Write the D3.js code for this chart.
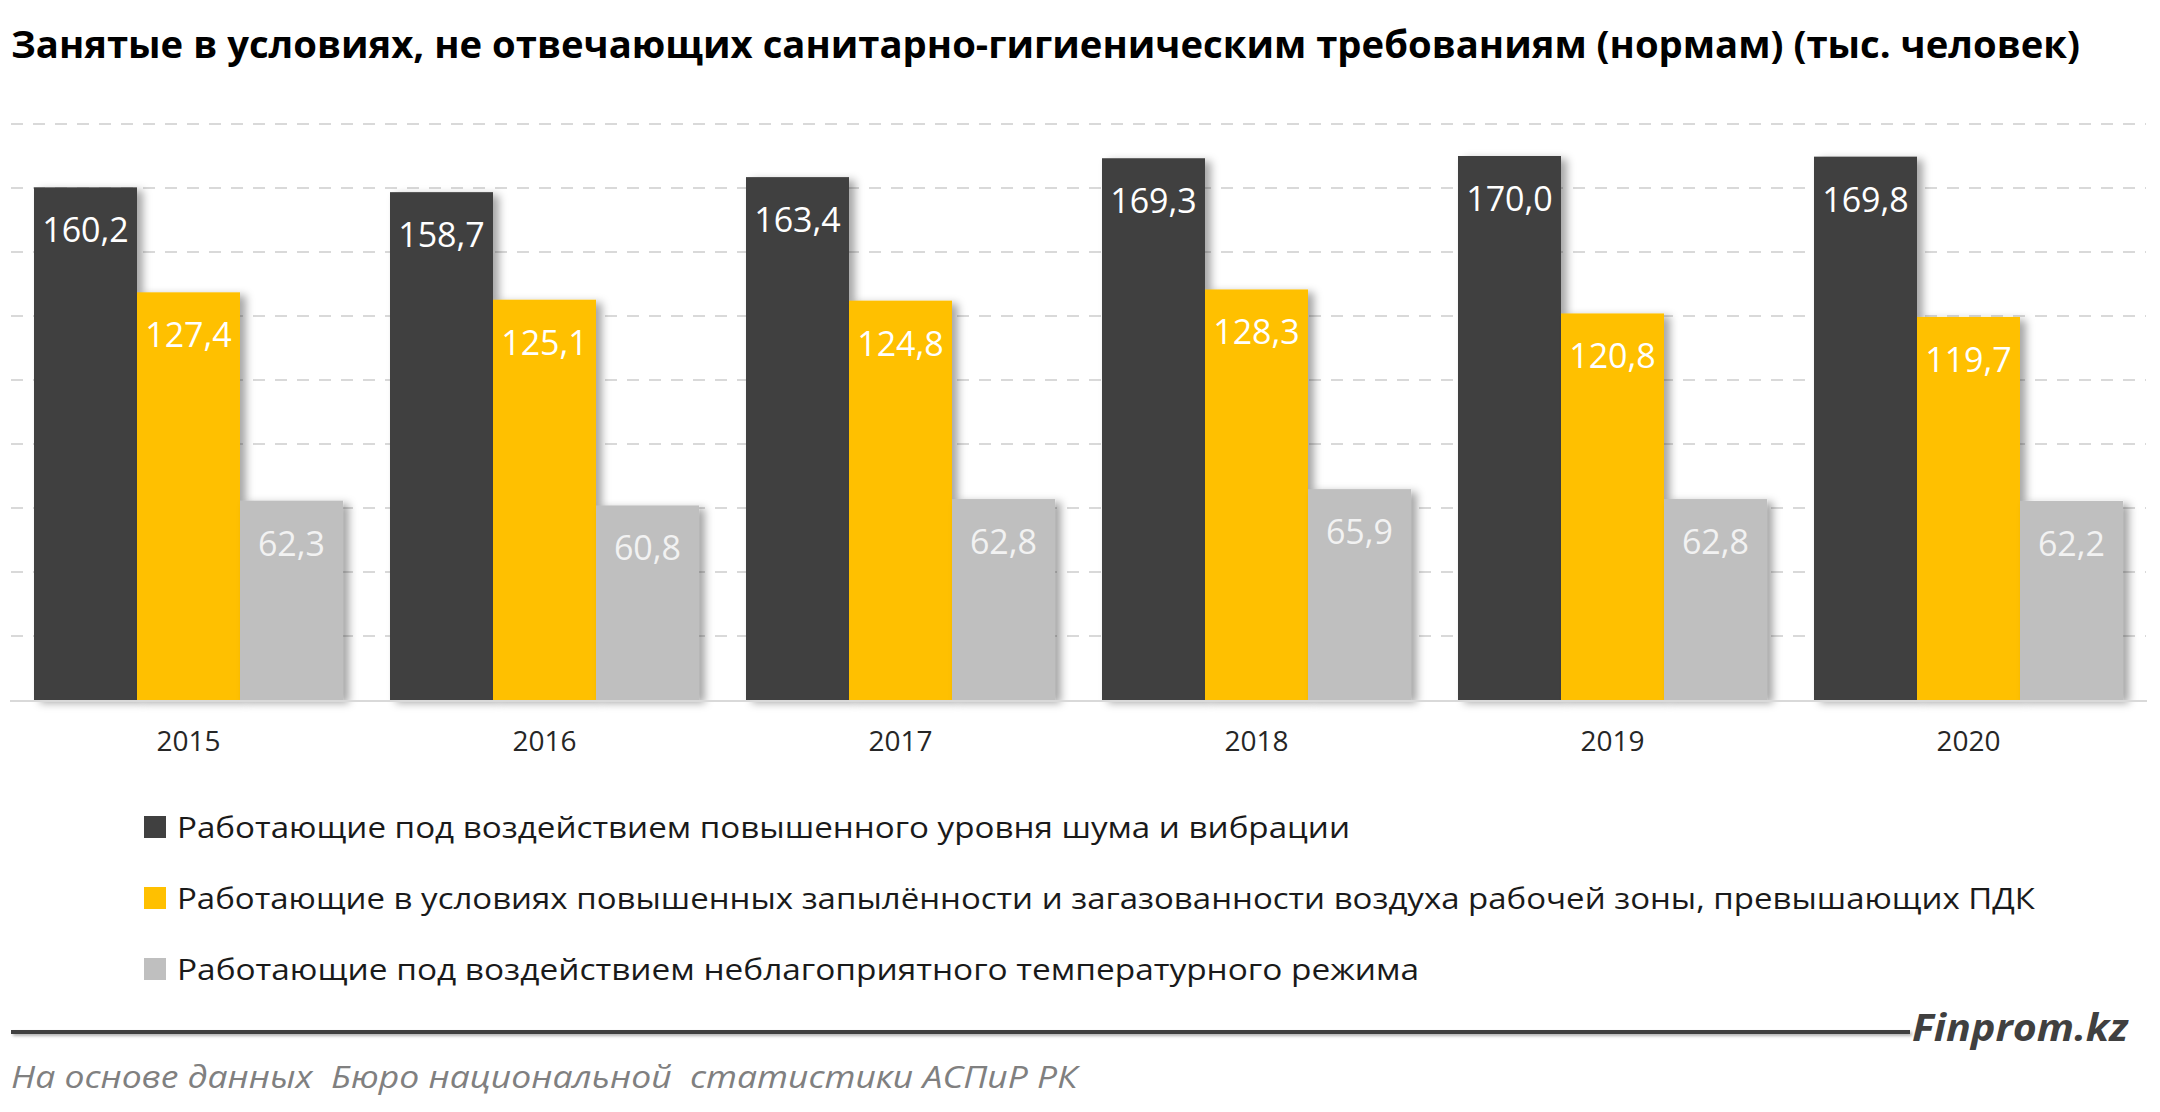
<!DOCTYPE html>
<html>
<head>
<meta charset="utf-8">
<script src="https://cdn.jsdelivr.net/npm/d3@7"></script>
<style>
  body { margin: 0; background: #fff; }
  text { font-family: "Open Sans", "Noto Sans", sans-serif; }
</style>
</head>
<body>
<div id="chart"></div>
<script>
// Data
const years = ["2015", "2016", "2017", "2018", "2019", "2020"];
const seriesNames = [
    "Работающие под воздействием повышенного уровня шума и вибрации",
    "Работающие в условиях повышенных запылённости и загазованности воздуха рабочей зоны, превышающих ПДК",
    "Работающие под воздействием неблагоприятного температурного режима"
];
const noise = [160.2, 158.7, 163.4, 169.3, 170.0, 169.8];
const dust = [127.4, 125.1, 124.8, 128.3, 120.8, 119.7];
const temperature = [62.3, 60.8, 62.8, 65.9, 62.8, 62.2];
const yTicks = [20, 40, 60, 80, 100, 120, 140, 160, 180];

const title = "Занятые в условиях, не отвечающих санитарно-гигиеническим требованиям (нормам) (тыс. человек)";
const source = "На основе данных  Бюро национальной  статистики АСПиР РК";
const brand = "Finprom.kz";

const colors = ["#404040", "#FFC000", "#BFBFBF"];
const labelColors = ["#ffffff", "#ffffff", "#f2f2f2"];
const seriesValues = [noise, dust, temperature];

const width = 2160;
const height = 1112;

const svg = d3.select("#chart")
    .append("svg")
    .attr("width", width)
    .attr("height", height);

// soft drop shadow like the Excel bars
const defs = svg.append("defs");
const shadow = defs.append("filter")
    .attr("id", "shadow")
    .attr("x", "-10%").attr("y", "-10%")
    .attr("width", "130%").attr("height", "120%");
shadow.append("feDropShadow")
    .attr("dx", 6).attr("dy", 3)
    .attr("stdDeviation", 4)
    .attr("flood-color", "#000")
    .attr("flood-opacity", 0.35);

// lighter shadow for the footer rule (thin shape, so give it room)
const ruleShadow = defs.append("filter")
    .attr("id", "ruleShadow")
    .attr("x", "-2%").attr("y", "-200%")
    .attr("width", "104%").attr("height", "500%");
ruleShadow.append("feDropShadow")
    .attr("dx", 2).attr("dy", 2)
    .attr("stdDeviation", 1.5)
    .attr("flood-color", "#000")
    .attr("flood-opacity", 0.3);

// Title
svg.append("text")
    .attr("x", 11)
    .attr("y", 58)
    .attr("font-size", 38)
    .attr("font-weight", 700)
    .attr("fill", "#000")
    .attr("textLength", 2069)
    .attr("lengthAdjust", "spacingAndGlyphs")
    .text(title);

// Scales
const x0 = d3.scaleBand()
    .domain(years)
    .range([10.5, 2146.5])
    .paddingInner(0.132)
    .paddingOuter(0.066);

const x1 = d3.scaleBand()
    .domain(d3.range(seriesValues.length))
    .range([0, x0.bandwidth()]);

const y = d3.scaleLinear()
    .domain([0, 180])
    .range([700, 124]);

// Gridlines
svg.append("g")
    .selectAll("line")
    .data(yTicks)
    .join("line")
    .attr("x1", 11)
    .attr("x2", 2146)
    .attr("y1", d => y(d))
    .attr("y2", d => y(d))
    .attr("stroke", "#d9d9d9")
    .attr("stroke-width", 2)
    .attr("stroke-dasharray", "12,10");

// Bars
const groups = svg.append("g")
    .selectAll("g")
    .data(years)
    .join("g")
    .attr("transform", d => `translate(${x0(d)},0)`);

const cells = groups.selectAll("g")
    .data((d, i) => seriesValues.map((s, k) => ({ k: k, v: s[i] })))
    .join("g");

cells.append("rect")
    .attr("x", d => x1(d.k))
    .attr("y", d => y(d.v))
    .attr("width", x1.bandwidth())
    .attr("height", d => y(0) - y(d.v))
    .attr("fill", d => colors[d.k])
    .attr("filter", "url(#shadow)");

cells.append("text")
    .attr("x", d => x1(d.k) + x1.bandwidth() / 2)
    .attr("y", d => y(d.v) + 55)
    .attr("text-anchor", "middle")
    .attr("font-size", 34)
    .attr("fill", d => labelColors[d.k])
    .text(d => d.v.toFixed(1).replace(".", ","));

// Baseline
svg.append("line")
    .attr("x1", 10)
    .attr("x2", 2147)
    .attr("y1", y(0) + 1)
    .attr("y2", y(0) + 1)
    .attr("stroke", "#d9d9d9")
    .attr("stroke-width", 2);

// Year labels
svg.append("g")
    .selectAll("text")
    .data(years)
    .join("text")
    .attr("x", d => x0(d) + x0.bandwidth() / 2)
    .attr("y", 751)
    .attr("text-anchor", "middle")
    .attr("font-size", 28)
    .attr("fill", "#262626")
    .text(d => d);

// Legend
const legendWidths = [1173, 1858, 1242];
const legend = svg.append("g")
    .selectAll("g")
    .data(seriesNames)
    .join("g")
    .attr("transform", (d, i) => `translate(144,${827 + i * 71})`);

legend.append("rect")
    .attr("x", 0)
    .attr("y", -11)
    .attr("width", 22)
    .attr("height", 22)
    .attr("fill", (d, i) => colors[i]);

legend.append("text")
    .attr("x", 33)
    .attr("y", 11)
    .attr("font-size", 30)
    .attr("fill", "#1a1a1a")
    .attr("textLength", (d, i) => legendWidths[i])
    .attr("lengthAdjust", "spacingAndGlyphs")
    .text(d => d);

// Footer rule + brand
svg.append("rect")
    .attr("x", 11)
    .attr("y", 1030)
    .attr("width", 1899)
    .attr("height", 4)
    .attr("fill", "#404040")
    .attr("filter", "url(#ruleShadow)");

svg.append("text")
    .attr("x", 1912)
    .attr("y", 1041)
    .attr("font-size", 38)
    .attr("font-weight", 700)
    .attr("font-style", "italic")
    .attr("fill", "#404040")
    .attr("textLength", 216)
    .attr("lengthAdjust", "spacingAndGlyphs")
    .text(brand);

svg.append("text")
    .attr("x", 11)
    .attr("y", 1088)
    .attr("font-size", 31)
    .attr("font-style", "italic")
    .attr("fill", "#808080")
    .attr("xml:space", "preserve")
    .style("white-space", "pre")
    .attr("textLength", 1066)
    .attr("lengthAdjust", "spacingAndGlyphs")
    .text(source);
</script>
</body>
</html>
